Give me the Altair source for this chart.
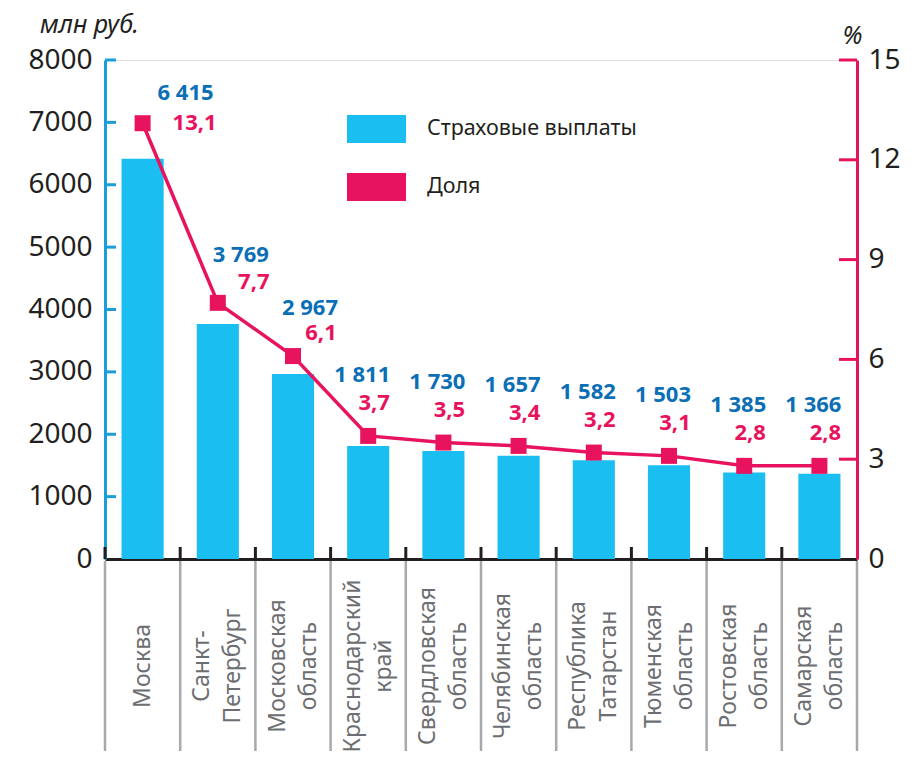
import altair as alt
import pandas as pd

regions = ["Москва", "Санкт-\nПетербург", "Московская\nобласть", "Краснодарский\nкрай",
           "Свердловская\nобласть", "Челябинская\nобласть", "Республика\nТатарстан",
           "Тюменская\nобласть", "Ростовская\nобласть", "Самарская\nобласть"]
payouts = [6415, 3769, 2967, 1811, 1730, 1657, 1582, 1503, 1385, 1366]
shares = [13.1, 7.7, 6.1, 3.7, 3.5, 3.4, 3.2, 3.1, 2.8, 2.8]
left_ticks = [0, 1000, 2000, 3000, 4000, 5000, 6000, 7000, 8000]
right_ticks = [0, 3, 6, 9, 12, 15]
legend_labels = ["Страховые выплаты", "Доля"]

CYAN = "#1bbef0"
PINK = "#e8135e"
AXBLUE = "#1b9dd9"
TXTBLUE = "#0b6fb6"
DARK = "#231f20"
GRAY = "#a7a9ac"
LABGRAY = "#6d6e71"
FONT = "Noto Sans"

W, H = 752, 499
STEP = W / len(regions)

df = pd.DataFrame({"region": regions, "payout": payouts, "share": shares,
                   "idx": list(range(len(regions)))})
lt = pd.DataFrame({"v": left_ticks})
rt = pd.DataFrame({"v": right_ticks})
lg = pd.DataFrame({"label": legend_labels, "k": [0, 1]})

xscale = alt.Scale(domain=regions, paddingInner=0.44, paddingOuter=0.22)
xaxis = alt.Axis(labels=False, ticks=False, domainColor=DARK, domainWidth=3,
                 grid=False, title=None)
X = alt.X("region:N", sort=regions, scale=xscale, axis=xaxis, title=None)

lscale = alt.Scale(domain=[0, 8000], nice=False, zero=True)
rscale = alt.Scale(domain=[0, 15], nice=False, zero=True)
laxis = alt.Axis(values=left_ticks, orient="left", ticks=False, grid=False, format="d",
                 domainColor=AXBLUE, domainWidth=3, labelFontSize=28,
                 labelColor=DARK, labelFont=FONT, labelPadding=13,
                 title="млн руб.", titleAngle=0, titleAlign="center",
                 titleBaseline="alphabetic", titleX=-16, titleY=-28,
                 titleFontSize=25, titleFontStyle="italic",
                 titleFontWeight="normal", titleColor=DARK, titleFont=FONT)
raxis = alt.Axis(values=right_ticks, orient="right", ticks=False, grid=False, format="d",
                 domainColor=PINK, domainWidth=3, labelFontSize=28,
                 labelColor=DARK, labelFont=FONT, labelPadding=11,
                 title="%", titleAngle=0, titleAlign="center",
                 titleBaseline="alphabetic", titleX=-5, titleY=-17,
                 titleFontSize=25, titleFontStyle="italic",
                 titleFontWeight="normal", titleColor=DARK, titleFont=FONT)


def YL(field):
    return alt.Y(field, scale=lscale, axis=laxis, title="млн руб.")


def YR(field):
    return alt.Y(field, scale=rscale, axis=raxis, title="%")


base = alt.Chart(df)

bars = base.mark_bar(color=CYAN).encode(x=X, y=YL("payout:Q"))

lticks = alt.Chart(lt).transform_filter("datum.v > 0").mark_rule(
    color=AXBLUE, strokeWidth=3).encode(
    y=YL("v:Q"), x=alt.value(0), x2=alt.value(11))

seps = base.mark_rule(color=GRAY, strokeWidth=2.5, xOffset=-STEP / 2).encode(
    x=X, y=alt.value(H + 2), y2=alt.value(H + 215))
seps_last = base.transform_filter(f"datum.idx == {len(regions) - 1}").mark_rule(
    color=GRAY, strokeWidth=2.5, xOffset=STEP / 2).encode(
    x=X, y=alt.value(H + 2), y2=alt.value(H + 215))
bticks = base.mark_rule(color=DARK, strokeWidth=3, xOffset=-STEP / 2).encode(
    x=X, y=alt.value(H - 12), y2=alt.value(H))

# category labels (rotated, one or two lines)
cat = base.transform_calculate(
    l1="split(datum.region, '\\n')[0]",
    l2="length(split(datum.region, '\\n')) > 1 ? split(datum.region, '\\n')[1] : ''",
    n="length(split(datum.region, '\\n'))")
cat_kw = dict(angle=270, align="center", baseline="middle", fontSize=23,
              font=FONT, color=LABGRAY)
cat_single = cat.transform_filter("datum.n == 1").mark_text(**cat_kw).encode(
    x=X, y=alt.value(H + 107), text="l1:N")
cat_first = cat.transform_filter("datum.n > 1").mark_text(dy=-15.5, **cat_kw).encode(
    x=X, y=alt.value(H + 107), text="l1:N")
cat_second = cat.transform_filter("datum.n > 1").mark_text(dy=15.5, **cat_kw).encode(
    x=X, y=alt.value(H + 107), text="l2:N")

leg = []
for k, col in enumerate([CYAN, PINK]):
    leg.append(alt.Chart(lg).transform_filter(f"datum.k == {k}").mark_rect(color=col).encode(
        x=alt.value(242), x2=alt.value(301),
        y=alt.value(55 + 58 * k), y2=alt.value(83 + 58 * k)))
    leg.append(alt.Chart(lg).transform_filter(f"datum.k == {k}").mark_text(
        align="left", baseline="middle", fontSize=21.5, font=FONT, color=DARK).encode(
        x=alt.value(322), y=alt.value(69 + 58 * k), text="label:N"))

left = alt.layer(bars, lticks, seps, seps_last, bticks, cat_single, cat_first, cat_second, *leg)

line = base.mark_line(color=PINK, strokeWidth=3.5).encode(x=X, y=YR("share:Q"))
pts = base.mark_point(shape="square", filled=True, size=256, color=PINK, opacity=1).encode(
    x=X, y=YR("share:Q"))
rticks = alt.Chart(rt).transform_filter("datum.v > 0").mark_rule(
    color=PINK, strokeWidth=3).encode(
    y=YR("v:Q"), x=alt.value(W - 18), x2=alt.value(W))

label_groups = [
    ("datum.idx == 0", (43, -30), (52, 0)),
    ("datum.idx == 1", (23, -48), (36, -21)),
    ("datum.idx == 2", (17, -48), (28, -23)),
    ("datum.idx > 2", (-6, -61), (6, -33)),
]
labels = []
for cond, (vdx, vdy), (pdx, pdy) in label_groups:
    sub = base.transform_filter(cond).transform_calculate(
        vt="replace(format(datum.payout, ','), ',', ' ')",
        pt="replace(format(datum.share, '.1f'), '.', ',')")
    labels.append(sub.mark_text(dx=vdx, dy=vdy, fontSize=22, fontWeight="bold", font=FONT,
                                color=TXTBLUE, align="center", baseline="middle").encode(
        x=X, y=YR("share:Q"), text="vt:N"))
    labels.append(sub.mark_text(dx=pdx, dy=pdy, fontSize=22, fontWeight="bold", font=FONT,
                                color=PINK, align="center", baseline="middle").encode(
        x=X, y=YR("share:Q"), text="pt:N"))

right = alt.layer(line, rticks, pts, *labels)

chart = alt.layer(left, right).resolve_scale(y="independent").properties(
    width=W, height=H,
    padding={"left": 97, "top": 52, "right": 54, "bottom": 192},
    autosize=alt.AutoSizeParams(type="none"),
).configure_view(stroke=None).configure(background="white")

chart.save("out.html", embed_options={"renderer": "svg", "actions": False})
